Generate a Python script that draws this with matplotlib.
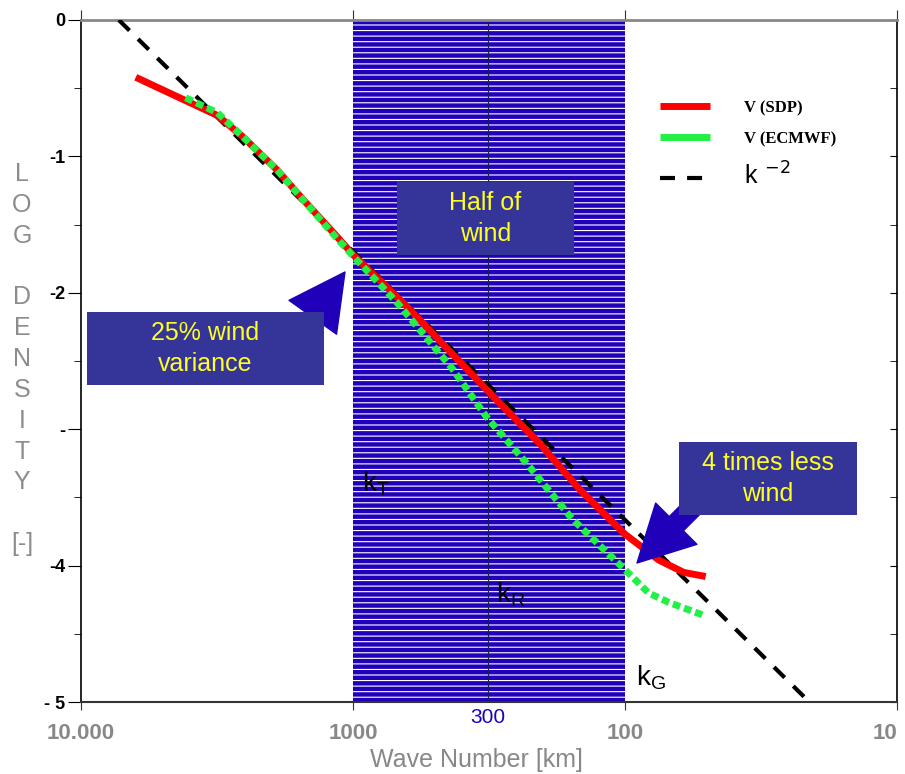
import matplotlib
matplotlib.use('Agg')
import matplotlib.pyplot as plt
from matplotlib.patches import Rectangle
from matplotlib.lines import Line2D, TICKLEFT
import numpy as np

plt.rcParams['font.family'] = ['Liberation Sans', 'DejaVu Sans']
plt.rcParams['hatch.linewidth'] = 0.8

# data (wavelength in km, log density)
sdp_L = [6290, 3150, 2530, 1900, 1520, 1180, 1000, 634, 323, 207, 147, 100, 75, 60.8, 50.5]
sdp_y = [-0.42, -0.70, -0.86, -1.10, -1.32, -1.56, -1.72, -2.10, -2.71, -3.10, -3.44, -3.77, -3.96, -4.05, -4.08]
ecm_L = [4125, 3150, 2530, 1900, 1524, 1183, 990, 690, 430, 323, 231, 156, 100, 82, 69, 50.5]
ecm_y = [-0.57, -0.68, -0.86, -1.10, -1.32, -1.57, -1.74, -2.07, -2.56, -2.91, -3.245, -3.66, -4.03, -4.20, -4.27, -4.37]
ref_L = [7260, 21]
ref_y = [0.0, -5.0]

band = (1000, 100)
mid_L = 320
xticks = [10000, 1000, 100, 10]
xlabels = ['10.000', '1000', '100', '10']
yticks = [0, -1, -2, -3, -4, -5]
ylabels = ['0', '-1', '-2', '-', '-4', '- 5']

W, H = 905, 774
fig = plt.figure(figsize=(W / 100, H / 100), dpi=100)
ax = fig.add_axes([81 / W, 1 - 702 / H, 816 / W, 682 / H])


def fpx(x, y):
    return x / W, 1 - y / H


blue = '#2000B8'
boxc = '#343499'
yel = '#FFFF22'

ax.axvspan(band[0], band[1], facecolor=blue, edgecolor='white', hatch='---', lw=0, zorder=1)
ax.axvline(mid_L, color='#1a1a60', lw=0.8, zorder=1.5)

ax.plot(ref_L, ref_y, color='black', lw=3, linestyle=(0, (3.6, 2.9)), zorder=3)
ax.plot(sdp_L, sdp_y, color='#FF0000', lw=5, solid_capstyle='butt', solid_joinstyle='round', zorder=4)
ax.plot(ecm_L, ecm_y, color='#22F044', lw=5, linestyle=(0, (1.1, 0.6)), dash_capstyle='butt', zorder=5)

ax.set_xscale('log')
ax.set_xlim(10000, 10)
ax.set_ylim(-5, 0)
ax.set_xticks(xticks)
ax.set_xticklabels(xlabels, fontsize=16, fontweight='bold', color='#888888')
ax.xaxis.set_minor_locator(matplotlib.ticker.NullLocator())
ax.set_yticks(yticks)
ax.set_yticklabels(ylabels, fontsize=13, fontweight='bold', color='black')
ax.set_yticks(np.arange(-4.5, 0, 1.0), minor=True)
ax.tick_params(axis='x', which='major', direction='out', length=6, pad=9, top=True,
               color='#333333')
ax.tick_params(axis='y', which='major', direction='out', length=9.5, pad=2, right=True)
ax.tick_params(axis='y', which='minor', direction='out', length=5, right=True)
for t in ax.xaxis.get_major_ticks():
    t.tick2line.set_color('#888888')
    t.tick2line.set_markersize(7)
# right-hand ticks point inward
for t in ax.yaxis.get_major_ticks() + ax.yaxis.get_minor_ticks():
    t.tick2line.set_marker(TICKLEFT)
    t.tick2line.set_markersize(5)
# keep the last x label inside the picture
ax.get_xticklabels()[-1].set_horizontalalignment('right')
ax.get_xticklabels()[-1].set_x(10)

ax.spines['top'].set_color('#888888')
ax.spines['top'].set_linewidth(2)
ax.spines['bottom'].set_color('#333333')
ax.spines['bottom'].set_linewidth(1.5)
ax.spines['left'].set_linewidth(1.2)
ax.spines['right'].set_linewidth(1.2)

ax.set_xlabel('Wave Number [km]', fontsize=18, color='#888888')
ax.xaxis.set_label_coords(0.485, -0.067)
ax.text(mid_L, -5.11, '300', fontsize=15, color=blue, ha='center', va='center', clip_on=False)

fig.text(22 / W, 1 - 359 / H, 'L\nO\nG\n\nD\nE\nN\nS\nI\nT\nY\n\n[-]', fontsize=18,
         color='#8c8c8c', ha='center', va='center', linespacing=1.36)

# k labels
ax.text(927, -3.458, r'$\mathregular{k_T}$', fontsize=20, ha='left', va='baseline', zorder=6)
ax.text(297, -4.27, r'$\mathregular{k_R}$', fontsize=20, ha='left', va='baseline', zorder=6)
ax.text(91.2, -4.88, r'$\mathregular{k_G}$', fontsize=20, ha='left', va='baseline', zorder=6)

# arrows
arrow_style = 'simple,head_length=1.0,head_width=1.05,tail_width=0.36'
for tip, tail in [((345, 272), (293, 345)), ((637, 563), (708, 492))]:
    ax.annotate('', xy=fpx(*tip), xycoords='figure fraction', xytext=fpx(*tail),
                textcoords='figure fraction',
                arrowprops=dict(arrowstyle=arrow_style, mutation_scale=40, color=blue,
                                shrinkA=0, shrinkB=0), zorder=7)

# text boxes
boxes = [((397, 182, 574, 255), 'Half of\nwind'),
         ((87, 312, 324, 385), '25% wind\nvariance'),
         ((679, 442, 857, 515), '4 times less\nwind')]
for (x0, y0, x1, y1), txt in boxes:
    fx0, fy1 = fpx(x0, y1)
    fig.add_artist(Rectangle((fx0, fy1), (x1 - x0) / W, (y1 - y0) / H, transform=fig.transFigure,
                             facecolor=boxc, edgecolor='none', zorder=10))
    cx, cy = fpx((x0 + x1) / 2, (y0 + y1) / 2)
    fig.text(cx, cy, txt, fontsize=18, color=yel, ha='center', va='center', linespacing=1.35,
             zorder=11)

# legend
handles = [Line2D([], [], color='#FF0000', lw=5, solid_capstyle='butt'),
           Line2D([], [], color='#22F044', lw=5, solid_capstyle='butt'),
           Line2D([], [], color='black', lw=3, linestyle=(0, (3.6, 2.9)))]
labels = ['V (SDP)', 'V (ECMWF)', r'k$\ ^{-2}$']
leg = ax.legend(handles, labels, loc='upper left', bbox_to_anchor=fpx(660, 100),
                bbox_transform=fig.transFigure, frameon=False, fontsize=13,
                handlelength=2.77, handletextpad=1.9, borderpad=0, borderaxespad=0,
                labelspacing=0.8)
for t in leg.get_texts()[:2]:
    t.set_fontfamily('Liberation Serif')
    t.set_fontweight('bold')
    t.set_fontsize(12)
leg.get_texts()[2].set_fontsize(18)
leg.set_zorder(8)

fig.savefig('out.png', dpi=100)
